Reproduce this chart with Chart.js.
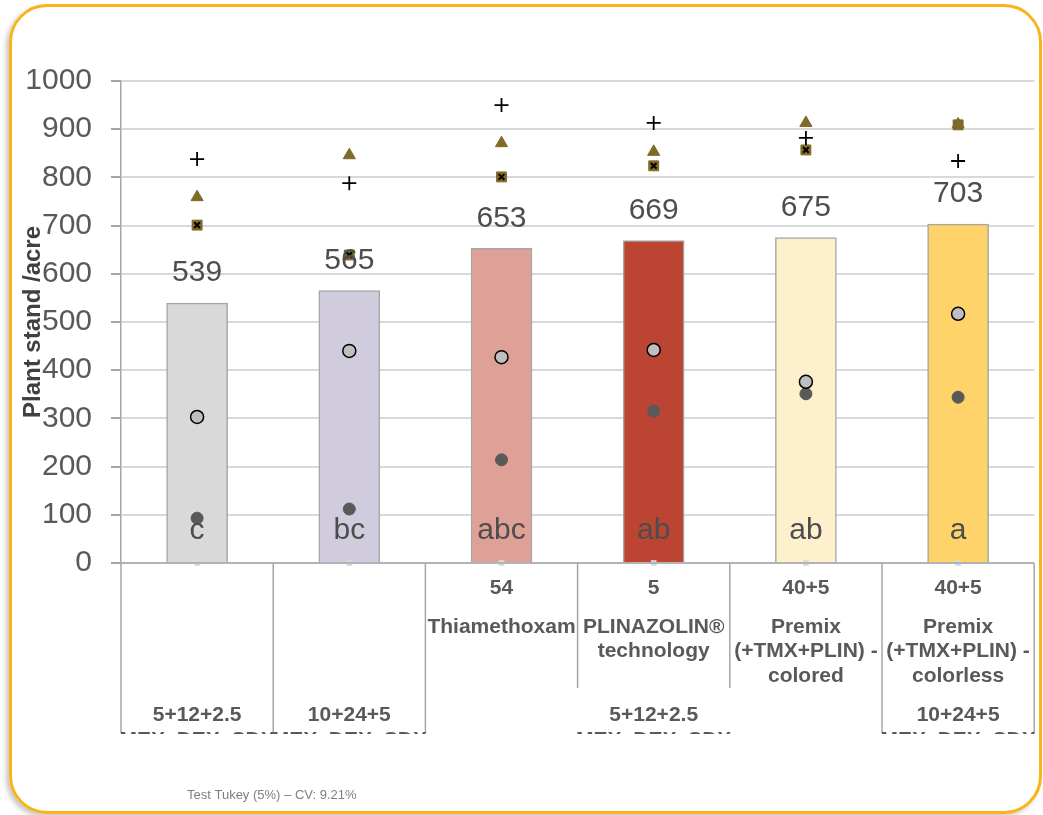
<!DOCTYPE html>
<html>
<head>
<meta charset="utf-8">
<script src="https://cdn.jsdelivr.net/npm/chart.js@4/dist/chart.umd.min.js"></script>
<style>
  html, body { margin: 0; padding: 0; background: #ffffff; }
  #wrap { position: relative; width: 1043px; height: 815px; overflow: hidden; }
  #frame {
    position: absolute; left: 9px; top: 4px; width: 1033px; height: 810px;
    border: 3px solid #F9B41B; border-radius: 38px; box-sizing: border-box;
    box-shadow: -3px 3px 5px rgba(0,0,0,0.22);
  }
  #chart { position: absolute; left: 0; top: 0; }
</style>
</head>
<body>
<div id="wrap">
  <div id="frame"></div>
  <canvas id="chart" width="1043" height="815"></canvas>
</div>
<script>
// Treatments (one per bar)
const categories = ['T1', 'T2', 'T3', 'T4', 'T5', 'T6'];

// Mean plant stand per acre and Tukey letters
const meanStand = [539, 565, 653, 669, 675, 703];
const tukeyLetters = ['c', 'bc', 'abc', 'ab', 'ab', 'a'];

// Individual site observations
const sitePlus     = [838, 788, 950, 913, 882, 834];
const siteTriangle = [759, 846, 871, 853, 913, 910];
const siteSquare   = [701, 639, 801, 824, 857, 909];
const siteLight    = [303, 440, 427, 442, 376, 517];
const siteDark     = [93, 112, 214, 315, 351, 344];
const baseline     = [0, 0, 0, 0, 0, 0];

// Multi-level category table under the axis
const doseLabels = ['', '', '54', '5', '40+5', '40+5'];
const productLabels = [
  [], [],
  ['Thiamethoxam'],
  ['PLINAZOLIN®', 'technology'],
  ['Premix', '(+TMX+PLIN) -', 'colored'],
  ['Premix', '(+TMX+PLIN) -', 'colorless']
];
const baseDoses = ['5+12+2.5', '10+24+5', '5+12+2.5', '10+24+5'];
const baseNames = ['MEX, DEX, SDX', 'MEX, DEX, SDX', 'MEX, DEX, SDX', 'MEX, DEX, SDX'];
const baseSpans = [[0, 0], [1, 1], [2, 4], [5, 5]];

const yTicks = [0, 100, 200, 300, 400, 500, 600, 700, 800, 900, 1000];
const footnote = 'Test Tukey (5%) – CV: 9.21%';

const barColors = ['#D9D9D9', '#D1CBDE', '#DFA097', '#BB4532', '#FEF0CC', '#FED369'];

const FONT = '"Liberation Sans", Arial, sans-serif';

function markerSet(data, style, radius, fill, stroke, width, order) {
  return {
    type: 'line', data, showLine: false, order, clip: false,
    pointStyle: style, pointRadius: radius, pointHoverRadius: radius,
    pointBackgroundColor: fill, pointBorderColor: stroke, pointBorderWidth: width
  };
}

// Bar value labels, Tukey letters, category table and footnote
const annotations = {
  id: 'annotations',
  afterDatasetsDraw(chart) {
    const ctx = chart.ctx;
    const x = chart.scales.x;
    const y = chart.scales.y;
    const area = chart.chartArea;
    const bars = chart.getDatasetMeta(0).data;

    ctx.save();
    ctx.fillStyle = '#4D4D4D';
    ctx.font = '30px ' + FONT;
    ctx.textAlign = 'center';
    ctx.textBaseline = 'middle';
    bars.forEach((bar, i) => {
      ctx.fillText(String(meanStand[i]), bar.x, bar.y - 30);
    });
    ctx.textBaseline = 'alphabetic';
    const zeroY = y.getPixelForValue(0);
    bars.forEach((bar, i) => {
      ctx.fillText(tukeyLetters[i], bar.x, zeroY - 24);
    });
    ctx.restore();

    // table
    const n = categories.length;
    const cw = (area.right - area.left) / n;
    const edge = i => area.left + cw * i;
    const top = zeroY;
    ctx.save();
    ctx.strokeStyle = '#A6A6A6';
    ctx.lineWidth = 1.5;
    ctx.beginPath();
    ctx.moveTo(area.left, top); ctx.lineTo(area.right, top);
    const lineEnds = [733, 733, 733, 688, 688, 733, 733];
    for (let i = 0; i <= n; i++) {
      ctx.moveTo(edge(i), top); ctx.lineTo(edge(i), lineEnds[i]);
    }
    ctx.stroke();

    ctx.fillStyle = '#595959';
    ctx.font = 'bold 21px ' + FONT;
    ctx.textAlign = 'center';
    ctx.textBaseline = 'middle';
    for (let i = 0; i < n; i++) {
      const cx = x.getPixelForValue(i);
      if (doseLabels[i]) ctx.fillText(doseLabels[i], cx, 588);
      productLabels[i].forEach((t, k) => ctx.fillText(t, cx, 627 + k * 24.5));
    }
    ctx.beginPath();
    ctx.rect(0, 0, chart.width, 734);
    ctx.clip();
    baseSpans.forEach((s, k) => {
      const cx = (edge(s[0]) + edge(s[1] + 1)) / 2;
      ctx.fillText(baseDoses[k], cx, 715);
      ctx.fillText(baseNames[k], cx, 740);
    });
    ctx.restore();

    ctx.save();
    ctx.fillStyle = '#7F7F7F';
    ctx.font = '13px ' + FONT;
    ctx.textAlign = 'left';
    ctx.textBaseline = 'middle';
    ctx.fillText(footnote, 187, 795);
    ctx.restore();
  }
};

new Chart(document.getElementById('chart'), {
  type: 'bar',
  data: {
    labels: categories,
    datasets: [
      {
        type: 'bar', data: meanStand, order: 10,
        backgroundColor: barColors, borderColor: '#A6A6A6', borderWidth: 1.5,
        barThickness: 61
      },
      markerSet(baseline, 'rect', 4, '#D9D9D9', '#D9D9D9', 0, 8),
      markerSet(siteSquare, 'rect', 7, '#7F6A26', '#7F6A26', 1, 7),
      markerSet(siteSquare, 'crossRot', 4, '#000000', '#000000', 2, 6),
      markerSet(siteTriangle, 'triangle', 7, '#7F6A26', '#7F6A26', 1, 5),
      markerSet(sitePlus, 'cross', 7, '#000000', '#000000', 1.8, 4),
      markerSet(siteDark, 'circle', 6, '#595959', '#595959', 1, 3),
      markerSet(siteLight, 'circle', 6.5, '#BFBFBF', '#000000', 1.5, 2)
    ]
  },
  options: {
    responsive: false,
    animation: false,
    devicePixelRatio: 1,
    layout: { padding: { top: 81, bottom: 252, left: 0, right: 8 } },
    plugins: { legend: { display: false }, tooltip: { enabled: false } },
    scales: {
      x: { display: false },
      y: {
        min: 0, max: 1000,
        afterBuildTicks(scale) { scale.ticks = yTicks.map(v => ({ value: v })); },
        afterFit(scale) { scale.width = 121; },
        ticks: {
          font: { family: FONT, size: 30 }, color: '#595959', padding: 19,
          callback: v => String(v)
        },
        grid: { color: '#D9D9D9', lineWidth: 2, tickColor: '#A6A6A6', tickLength: 10 },
        border: { color: '#A6A6A6', width: 1.5 },
        title: {
          display: true, text: 'Plant stand /acre', color: '#404040',
          font: { family: FONT, size: 24, weight: 'bold' }, padding: { top: 19 }
        }
      }
    }
  },
  plugins: [annotations]
});
</script>
</body>
</html>
